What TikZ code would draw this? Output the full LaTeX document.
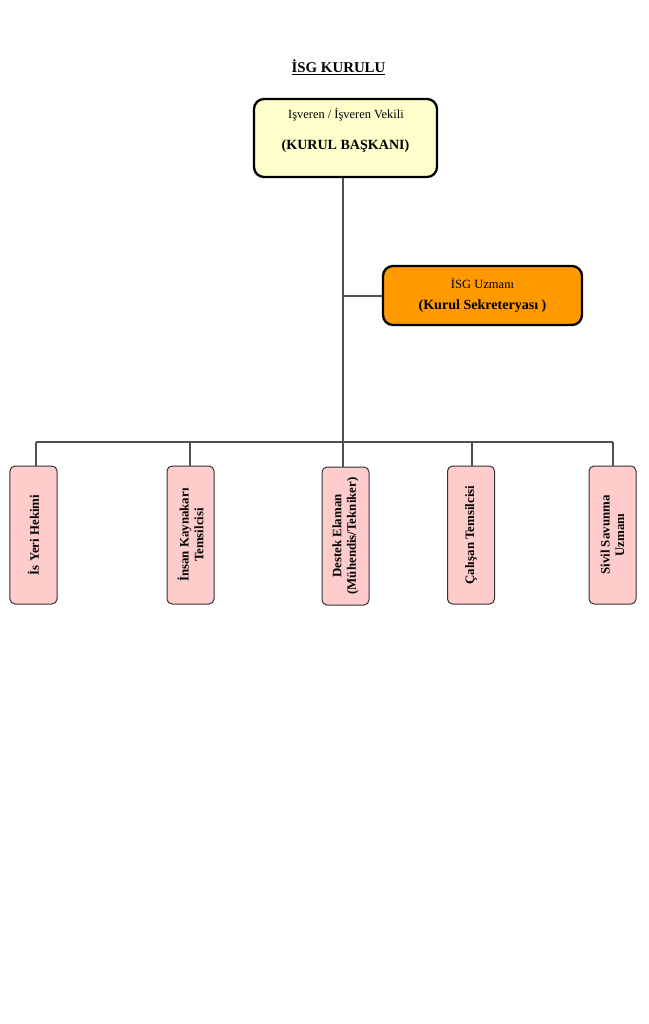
\documentclass[tikz,border=0pt]{standalone}
\usepackage{fontspec}
\setmainfont{Liberation Serif}
\definecolor{boxyellow}{HTML}{FFFFCC}
\definecolor{boxorange}{HTML}{FF9900}
\definecolor{boxpink}{HTML}{FFCCCC}
\definecolor{linegray}{HTML}{505050}
\begin{document}
\begin{tikzpicture}[x=0.3mm,y=-0.3mm,
  topbox/.style={draw=black, line width=0.7mm, rounded corners=3mm, inner sep=0pt},
  memberbox/.style={draw=black!80, line width=0.3mm, rounded corners=1.5mm, fill=boxpink,
    rotate=90, minimum width=41.4mm, minimum height=14.1mm, inner sep=0pt,
    font=\fontsize{11}{12.5}\selectfont\bfseries, align=center},
  conn/.style={draw=linegray, line width=0.32mm}]
\useasboundingbox (0,0) rectangle (649,1024);
\node[font=\fontsize{12.7}{14}\selectfont\bfseries] (title) at (338.5,67) {\underline{İSG KURULU}};
% top box
\node[topbox, fill=boxyellow, minimum width=54.9mm, minimum height=23.4mm] (chair) at (345.5,138) {};
\node[font=\fontsize{10.6}{12}\selectfont] (chairA) at (346,115) {Işveren / İşveren Vekili};
\node[font=\fontsize{12}{13}\selectfont\bfseries] (chairB) at (345.5,146) {(KURUL BAŞKANI)};
% secretary
\node[topbox, fill=boxorange, minimum width=59.7mm, minimum height=17.7mm] (sec) at (482.5,295.5) {};
\node[font=\fontsize{10.7}{12}\selectfont] (secA) at (482.5,283) {İSG Uzmanı};
\node[font=\fontsize{12}{13}\selectfont\bfseries] (secB) at (482.5,306) {(Kurul Sekreteryası )};
% members
\node[memberbox] (m1) at (33.5,535) {İs Yeri Hekimi};
\node[memberbox] (m2) at (190.5,535) {İnsan Kaynakarı\\Temsilcisi};
\node[memberbox] (m3) at (345.5,536) {Destek Elaman\\(Mühendis/Tekniker)};
\node[memberbox] (m4) at (471,535) {Çalışan Temsilcisi};
\node[memberbox] (m5) at (612.5,535) {Sivil Savunma\\Uzmanı};
% connectors
\coordinate (bus) at (343,442);
\coordinate (secj) at (343,296);
\draw[conn] (chair.south -| bus) -- (bus);
\draw[conn] (secj) -- (sec.west |- secj);
\draw[conn] (36,442) -- (613,442);
\draw[conn] (36,442) -- (m1.east -| 36,0);
\draw[conn] (190,442) -- (m2.east -| 190,0);
\draw[conn] (bus) -- (m3.east -| bus);
\draw[conn] (472,442) -- (m4.east -| 472,0);
\draw[conn] (613,442) -- (m5.east -| 613,0);
\end{tikzpicture}
\end{document}
